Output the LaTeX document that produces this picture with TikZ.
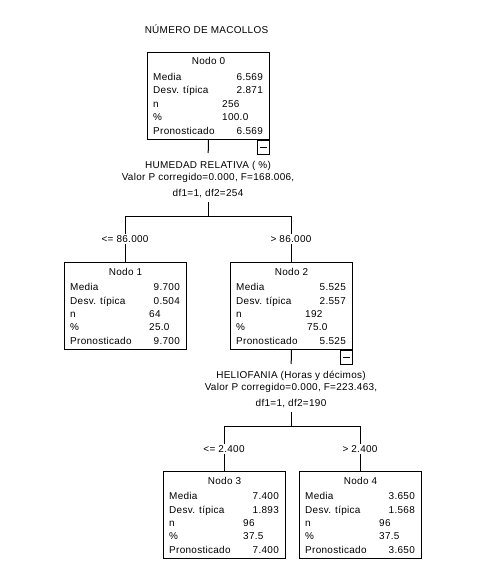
\documentclass[tikz,border=0pt]{standalone}
\usepackage{fontspec}
\setmainfont[LetterSpace=3]{Liberation Sans}
\newcommand{\treenode}[9]{%
  \node[box] (#1) at (#2,#3) {};
  \node[anchor=base] at ([yshift=-13bp]#1.north) {#4};
  \node[anchor=base west] at ([xshift=6bp,yshift=-28.5bp]#1.north west) {Media};
  \node[anchor=base east] at ([xshift=-7bp,yshift=-28.5bp]#1.north east) {#5};
  \node[anchor=base west] at ([xshift=6bp,yshift=-42bp]#1.north west) {Desv. típica};
  \node[anchor=base east] at ([xshift=-7bp,yshift=-42bp]#1.north east) {#6};
  \node[anchor=base west] at ([xshift=6bp,yshift=-55.5bp]#1.north west) {n};
  \node[anchor=base west] at ([xshift=\noffa,yshift=-55.5bp]#1.north west) {#7};
  \node[anchor=base west] at ([xshift=6bp,yshift=-68.5bp]#1.north west) {\%};
  \node[anchor=base west] at ([xshift=\noffb,yshift=-68.5bp]#1.north west) {#8};
  \node[anchor=base west] at ([xshift=6bp,yshift=-82bp]#1.north west) {Pronosticado};
  \node[anchor=base east] at ([xshift=-7bp,yshift=-82bp]#1.north east) {#9};
}
\newcommand{\minusbox}[2]{%
  \node[minusb] (#1) at (#2.south east) {};
  \draw[conn] ([xshift=-3.5bp]#1.center) -- ([xshift=3.5bp]#1.center);
}
\begin{document}
\begin{tikzpicture}[x=1bp,y=-1bp,
  every node/.style={font=\fontsize{10}{12}\selectfont, text=black, inner sep=0},
  box/.style={draw, line width=1bp, minimum width=122bp, minimum height=87bp, anchor=north west},
  conn/.style={line width=1bp},
  cond/.style={fill=white, inner xsep=1bp, inner ysep=1.5bp},
  minusb/.style={draw, line width=1bp, anchor=north east, minimum width=12bp, minimum height=14bp},
  split/.style={align=center, anchor=north}]
\useasboundingbox (0,0) rectangle (494,584);

\node[anchor=base] (title) at (206.5,33.5) {NÚMERO DE MACOLLOS};

% Node 0
\def\noffa{75bp}\def\noffb{75bp}
\treenode{n0}{147}{52}{Nodo 0}{6.569}{2.871}{256}{100.0}{6.569}
\minusbox{m0}{n0}

% Node 1
\def\noffa{85bp}\def\noffb{85bp}
\treenode{n1}{64}{262}{Nodo 1}{9.700}{0.504}{64}{25.0}{9.700}

% Node 2
\def\noffa{75bp}\def\noffb{77bp}
\treenode{n2}{230}{262}{Nodo 2}{5.525}{2.557}{192}{75.0}{5.525}
\minusbox{m2}{n2}

% Node 3
\def\noffa{80bp}\def\noffb{80bp}
\treenode{n3}{163}{471}{Nodo 3}{7.400}{1.893}{96}{37.5}{7.400}

% Node 4
\def\noffa{80bp}\def\noffb{80bp}
\treenode{n4}{299}{471}{Nodo 4}{3.650}{1.568}{96}{37.5}{3.650}

% Split 0
\node[split] (s0) at (208,161) {HUMEDAD RELATIVA ( \%)\\Valor P corregido=0.000, F=168.006,\\[4.5bp]df1=1, df2=254};
\coordinate (f0) at (208,216);
\draw[conn, shorten >=8bp] (n0.south) -- (s0.north);
\draw[conn, shorten <=4bp] (s0.south) -- (f0);
\draw[conn] (n1.north) -- (n1.north |- f0) -- (n2.north |- f0) -- (n2.north);
\node[cond] (c1) at (125,239) {<= 86.000};
\node[cond] (c2) at (291,239) {> 86.000};

% Split 2
\node[split] (s2) at (291,371) {HELIOFANIA (Horas y décimos)\\Valor P corregido=0.000, F=223.463,\\[4.5bp]df1=1, df2=190};
\coordinate (f2) at (291,426);
\draw[conn, shorten >=7bp] (n2.south) -- (s2.north);
\draw[conn, shorten <=4bp] (s2.south) -- (f2);
\draw[conn] (n3.north) -- (n3.north |- f2) -- (n4.north |- f2) -- (n4.north);
\node[cond] (c3) at (224,449) {<= 2.400};
\node[cond] (c4) at (360,449) {> 2.400};
\end{tikzpicture}
\end{document}
